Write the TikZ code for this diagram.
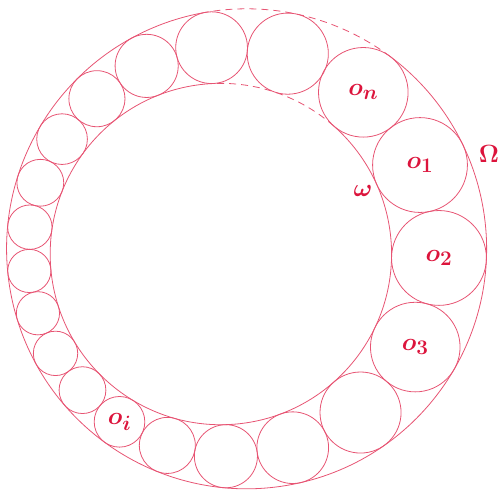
\documentclass[tikz,border=0pt]{standalone}
\usepackage{amsmath}
\definecolor{crim}{RGB}{220,20,60}
\definecolor{ringc}{RGB}{231,84,115}
\tikzset{
  ring/.style={draw=ringc, line width=0.8pt},
  ringdash/.style={ring, dash pattern=on 7pt off 5pt},
  chainc/.style={circle, draw=ringc, line width=0.8pt, inner sep=0pt, outer sep=0pt},
  lab/.style={text=crim, font=\fontsize{28}{32}\selectfont\boldmath, inner sep=0pt},
}
% geometry (1 unit = 1 pixel of the reference, y upwards)
\def\Ox{246.6}\def\Oy{241.2}\def\Rout{240}\def\cc{26.25}\def\ang{191.53}\def\rin{170.7}\def\Kinv{1000}
\edef\ux{\fpeval{cosd(\ang)}}
\edef\uy{\fpeval{sind(\ang)}}
\edef\Cx{\fpeval{round(\Ox+\cc*\ux,4)}}
\edef\Cy{\fpeval{round(\Oy+\cc*\uy,4)}}
\edef\Ssum{\fpeval{(\cc)^2-(\rin)^2+(\Rout)^2}}
\edef\Lp{\fpeval{(\Ssum-sqrt((\Ssum)^2-4*(\cc)^2*(\Rout)^2))/(2*\cc)}}
\edef\Lx{\fpeval{\Ox+\Lp*\ux}}
\edef\Ly{\fpeval{\Oy+\Lp*\uy}}
\edef\Done{\fpeval{(\Lp)^2-(\Rout)^2}}
\edef\Qo{\fpeval{-\Kinv*\Lp/\Done}}
\edef\Ain{\fpeval{\Kinv*\Rout/abs(\Done)}}
\edef\Dtwo{\fpeval{(\cc-\Lp)^2-(\rin)^2}}
\edef\Bin{\fpeval{\Kinv*\rin/abs(\Dtwo)}}
\edef\mmid{\fpeval{(\Ain+\Bin)/2}}
\edef\srad{\fpeval{abs(\Bin-\Ain)/2}}
\edef\stp{\fpeval{2*asind(\srad/\mmid)}}
\edef\phz{\fpeval{\ang-180-\stp/2}}
\newcommand\chainpos[1]{%
  \edef\phj{\fpeval{\phz+(#1)*\stp}}%
  \edef\pxj{\fpeval{\Qo*\ux+\mmid*cosd(\phj)}}%
  \edef\pyj{\fpeval{\Qo*\uy+\mmid*sind(\phj)}}%
  \edef\ddj{\fpeval{(\pxj)^2+(\pyj)^2-(\srad)^2}}%
  \edef\cxj{\fpeval{round(\Lx+\Kinv*\pxj/\ddj,3)}}%
  \edef\cyj{\fpeval{round(\Ly+\Kinv*\pyj/\ddj,3)}}%
  \edef\diamj{\fpeval{round(2*\Kinv*\srad/abs(\ddj),3)}}%
}
\chainpos{2}
\edef\aOa{\fpeval{round(atand(\cyj-\Oy,\cxj-\Ox),3)}}
\edef\aIa{\fpeval{round(atand(\cyj-\Cy,\cxj-\Cx),3)}}
\chainpos{-16}
\edef\aOb{\fpeval{round(atand(\cyj-\Oy,\cxj-\Ox),3)}}
\edef\aIb{\fpeval{round(atand(\cyj-\Cy,\cxj-\Cx),3)}}
\edef\aOc{\fpeval{\aOa+360}}
\edef\aIc{\fpeval{\aIa+360}}
\begin{document}
\begin{tikzpicture}[x=1pt,y=1pt]
\useasboundingbox (0,0) rectangle (503,490);
\coordinate (O) at (\Ox,\Oy);
\coordinate (C) at (\Cx,\Cy);
% outer circle Omega
\draw[ring] (O) ++(\aOb:\Rout) arc[start angle=\aOb, end angle=\aOc, radius=\Rout];
\draw[ringdash] (O) ++(\aOa:\Rout) arc[start angle=\aOa, end angle=\aOb, radius=\Rout];
% inner circle omega
\draw[ring] (C) ++(\aIb:\rin) arc[start angle=\aIb, end angle=\aIc, radius=\rin];
\draw[ringdash] (C) ++(\aIa:\rin) arc[start angle=\aIa, end angle=\aIb, radius=\rin];
% chain
\foreach \j in {-17,...,2}{
  \chainpos{\j}
  \node[chainc, minimum size=\diamj pt] (c\j) at (\cxj,\cyj) {};
}
% labels
\node[lab] (ln) at (c2) {$o_n$};
\node[lab] (l1) at (c1) {$o_1$};
\node[lab] (l2) at (c0) {$o_2$};
\node[lab] (l3) at (c-1) {$o_3$};
\node[lab] (li) at (c-6) {$o_i$};
\node[lab] (Om) at (489,336) {$\Omega$};
\node[lab] (om) at (363,299) {$\omega$};
\end{tikzpicture}
\end{document}
